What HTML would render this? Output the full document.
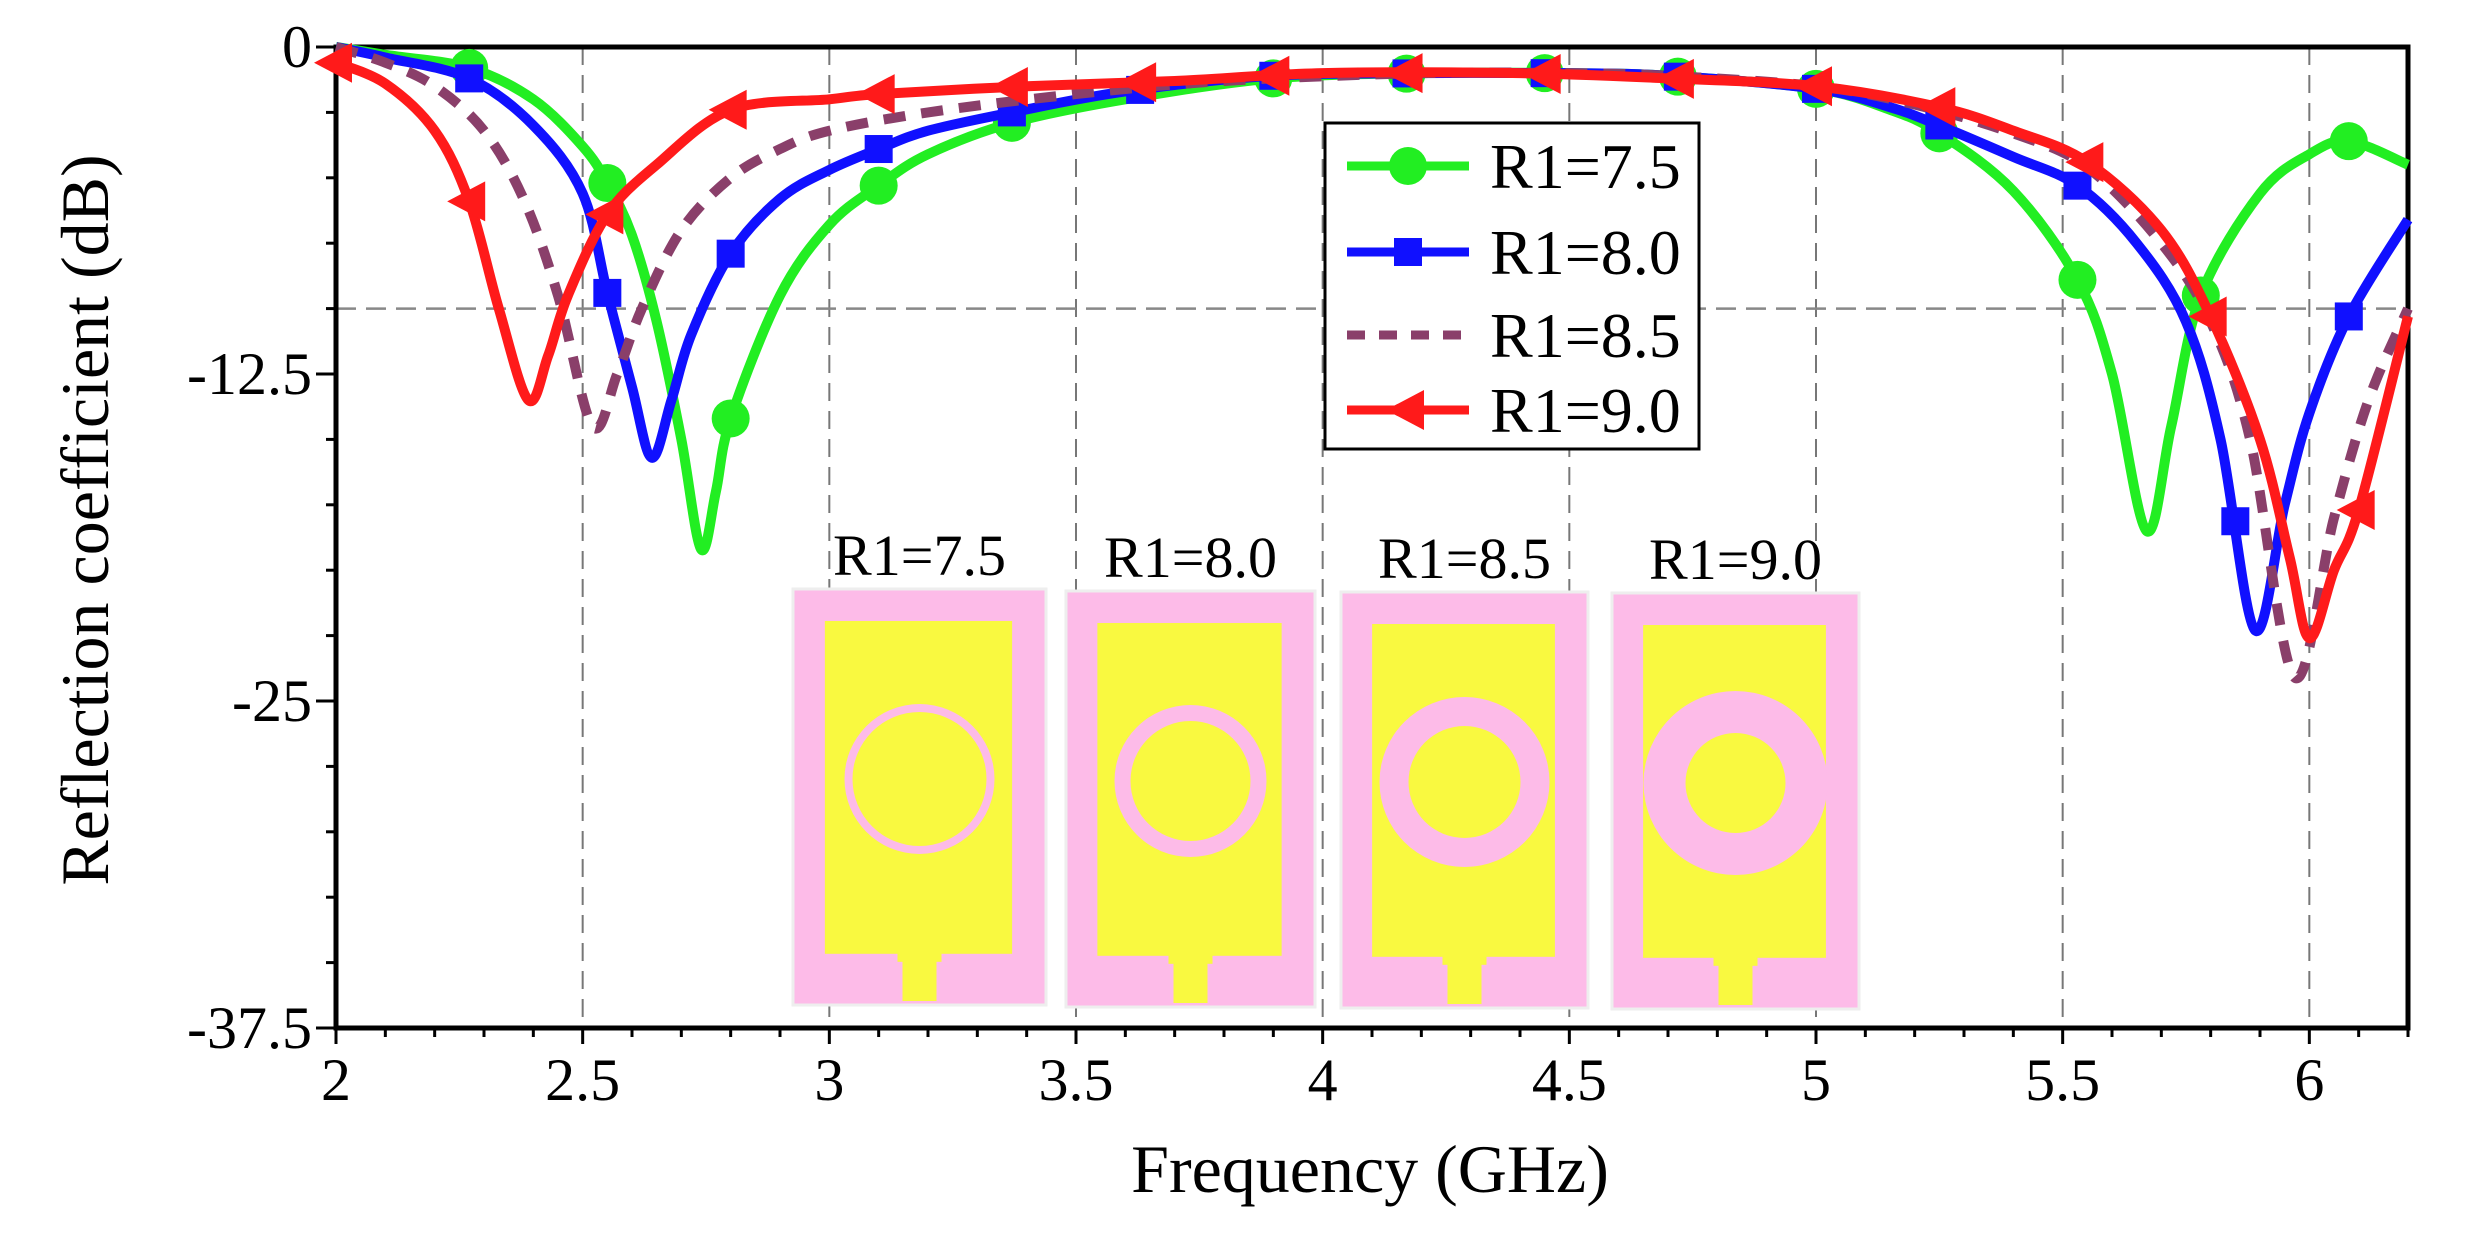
<!DOCTYPE html>
<html><head><meta charset="utf-8"><style>
html,body{margin:0;padding:0;background:#fff;}
svg{display:block;}
svg text{font-family:"Liberation Serif","DejaVu Serif",serif;}
</style></head><body>
<svg id="c" width="2477" height="1244" viewBox="0 0 2477 1244"></svg>
<script>
const xTicks=[2,2.5,3,3.5,4,4.5,5,5.5,6];
const yTicks=[0,-12.5,-25,-37.5];
const yTickLabels=["0","-12.5","-25","-37.5"];
const seriesNames=["R1=7.5","R1=8.0","R1=8.5","R1=9.0"];
const f75=[2,2.1,2.27,2.4,2.5,2.55,2.6,2.65,2.7,2.74,2.77,2.8,2.9,3.0,3.1,3.2,3.37,3.6,3.9,4.2,4.5,4.7,5.0,5.15,5.25,5.4,5.53,5.6,5.67,5.72,5.78,5.9,6.0,6.08,6.2];
const v75=[0,-0.3,-0.8,-2,-3.8,-5.2,-7.2,-10.5,-15,-19.2,-17,-14.2,-9.5,-6.8,-5.3,-4.1,-2.9,-2,-1.2,-1,-1,-1.1,-1.6,-2.4,-3.3,-5.5,-8.9,-12.5,-18.5,-14.5,-9.5,-5.6,-4.1,-3.6,-4.5];
const f80=[2,2.1,2.27,2.4,2.5,2.55,2.6,2.64,2.68,2.72,2.8,2.9,3.0,3.1,3.2,3.37,3.6,3.9,4.2,4.5,4.7,5.0,5.15,5.25,5.4,5.53,5.65,5.75,5.82,5.89,5.95,6.0,6.08,6.2];
const v80=[0,-0.4,-1.2,-3,-5.6,-9.4,-13,-15.7,-13.5,-11,-7.9,-5.8,-4.7,-3.9,-3.2,-2.5,-1.7,-1.1,-1,-1,-1.1,-1.6,-2.3,-3,-4.2,-5.3,-7.5,-10.5,-15,-22.3,-17.5,-14,-10.3,-6.6];
const f85=[2,2.1,2.2,2.3,2.38,2.45,2.52,2.57,2.62,2.7,2.8,2.9,3.0,3.2,3.5,3.8,4.2,4.5,4.7,5.0,5.2,5.4,5.55,5.7,5.8,5.88,5.97,6.05,6.12,6.2];
const v85=[0,-0.6,-1.5,-3.2,-5.8,-9.5,-14.5,-12.5,-10,-7,-5,-3.9,-3.2,-2.5,-1.8,-1.3,-1,-1,-1.1,-1.5,-2.2,-3.3,-4.6,-7.5,-10.5,-15,-24.1,-18,-13.5,-10];
const f90=[2,2.1,2.2,2.27,2.33,2.39,2.43,2.47,2.55,2.65,2.8,3.0,3.1,3.4,3.7,4.0,4.4,4.7,5.0,5.25,5.4,5.55,5.7,5.8,5.9,5.96,6.0,6.05,6.1,6.2];
const v90=[-0.6,-1.4,-3.2,-5.9,-10,-13.5,-11.8,-9.5,-6.4,-4.5,-2.4,-2,-1.8,-1.5,-1.3,-1,-1,-1.2,-1.5,-2.3,-3.2,-4.4,-7,-10.3,-15,-19.5,-22.6,-20,-17.7,-10.3];
const mk75=[2.27,2.55,2.8,3.1,3.37,3.9,4.17,4.45,4.72,5.0,5.25,5.53,5.78,6.08];
const mk80=[2.27,2.55,2.8,3.1,3.37,3.63,3.9,4.17,4.45,4.72,5.0,5.25,5.53,5.85,6.08];
const mk90=[2.0,2.27,2.55,2.8,3.1,3.37,3.63,3.9,4.17,4.45,4.72,5.0,5.25,5.55,5.8,6.1];

const X0=336,X1=2408,Y0=47,Y1=1028;
const xs=v=>X0+(v-2)*(X1-X0)/4.2;
const ys=v=>Y0+(-v)*(Y1-Y0)/37.5;
const NS="http://www.w3.org/2000/svg";
const svg=document.getElementById('c');
const FF="Liberation Serif, DejaVu Serif, serif";
function el(t,a,p){const e=document.createElementNS(NS,t);for(const k in a)e.setAttribute(k,a[k]);if(t==='text')e.style.fontFamily='"Liberation Serif","DejaVu Serif",serif';(p||svg).appendChild(e);return e;}

xTicks.slice(1).forEach(t=>{const g=el('line',{x1:xs(t),x2:xs(t),y1:Y0,y2:Y1,stroke:'#777','stroke-width':2,'stroke-dasharray':'18,10'});

});
const hg=el('line',{x1:X0,x2:X1,y1:ys(-10),y2:ys(-10),stroke:'#888','stroke-width':2.5,'stroke-dasharray':'20,10'});



const insets=[{x:793,y:589,w:253,l:"R1=7.5",ro:75,ri:67},{x:1066,y:591,w:249,l:"R1=8.0",ro:76,ri:60},{x:1341,y:592,w:247,l:"R1=8.5",ro:85,ri:56},{x:1612,y:593,w:247,l:"R1=9.0",ro:92,ri:50}];
insets.forEach((s,i)=>{
 const g=el('g',{});
 
 
 const h=416;
 el('rect',{x:s.x,y:s.y,width:s.w,height:h,fill:'#fdbbe8',stroke:'#eee','stroke-width':3},g);
 const ix=s.x+s.w*0.126, iw=s.w*0.74, iy=s.y+32, ih=h*0.8;
 el('rect',{x:ix,y:iy,width:iw,height:ih,fill:'#f9f940'},g);
 const cx=s.x+s.w/2, cy=s.y+190;
 el('circle',{cx:cx,cy:cy,r:s.ro,fill:'#fdbbe8'},g);
 el('circle',{cx:cx,cy:cy,r:s.ri,fill:'#f9f940'},g);
 el('rect',{x:cx-17,y:iy+ih,width:34,height:h-(iy+ih-s.y)-4,fill:'#f9f940'},g);
 el('rect',{x:cx-22,y:iy+ih-6,width:44,height:14,fill:'#f9f940'},g);
 const t=el('text',{x:cx,y:s.y-14,'font-size':58,'text-anchor':'middle',fill:'#000'},g);t.textContent=s.l;
});

const box=el('rect',{x:X0,y:Y0,width:X1-X0,height:Y1-Y0,fill:'none',stroke:'#000','stroke-width':5});


for(let v=2;v<=6.2001;v+=0.1){const big=Math.abs(v*2-Math.round(v*2))<1e-6;el('line',{x1:xs(v),x2:xs(v),y1:Y1,y2:Y1+(big?16:9),stroke:'#000','stroke-width':3});}
for(let v=0;v>=-37.5001;v-=2.5){const big=Math.abs(v/12.5-Math.round(v/12.5))<1e-6;el('line',{x1:X0,x2:X0-(big?20:10),y1:ys(v),y2:ys(v),stroke:'#000','stroke-width':3});}
xTicks.forEach(t=>{const e=el('text',{x:xs(t),y:1100,'font-size':60,'text-anchor':'middle'});e.textContent=String(t);

});
yTicks.forEach((t,i)=>{const e=el('text',{x:X0-24,y:ys(t)+20,'font-size':60,'text-anchor':'end'});e.textContent=yTickLabels[i];

});
const xt=el('text',{x:1370,y:1192,'font-size':68,'text-anchor':'middle'});xt.textContent='Frequency (GHz)';


const yt=el('text',{x:0,y:0,'font-size':68,'text-anchor':'middle',transform:'translate(108,520) rotate(-90)'});yt.textContent='Reflection coefficient (dB)';



function pathD(fx,vy){const p=fx.map((f,i)=>[xs(f),ys(vy[i])]);let d='M'+p[0][0]+','+p[0][1];
for(let i=0;i<p.length-1;i++){const a=p[Math.max(0,i-1)],b=p[i],c=p[i+1],e=p[Math.min(p.length-1,i+2)];
d+=` C${b[0]+(c[0]-a[0])/6},${b[1]+(c[1]-a[1])/6} ${c[0]-(e[0]-b[0])/6},${c[1]-(e[1]-b[1])/6} ${c[0]},${c[1]}`;}return d;}
function interp(fx,vy,f){for(let i=0;i<fx.length-1;i++){if(f>=fx[i]&&f<=fx[i+1]){const t=(f-fx[i])/(fx[i+1]-fx[i]);return vy[i]+t*(vy[i+1]-vy[i]);}}return vy[vy.length-1];}
function marker(type,x,y,col,g){
 if(type==='circle')el('circle',{cx:x,cy:y,r:19,fill:col},g);
 else if(type==='square')el('rect',{x:x-14,y:y-14,width:28,height:28,fill:col},g);
 else el('polygon',{points:`${x-22},${y} ${x+16},${y-20} ${x+16},${y+20}`,fill:col},g);
}
const defs=[{f:f75,v:v75,c:'#22ee22',m:'circle',mk:mk75,n:'series-r1-7-5'},{f:f80,v:v80,c:'#1010ff',m:'square',mk:mk80,n:'series-r1-8-0'},{f:f85,v:v85,c:'#8a3f6a',m:null,mk:[],n:'series-r1-8-5',dash:'22,16'},{f:f90,v:v90,c:'#ff1a1a',m:'tri',mk:mk90,n:'series-r1-9-0'}];
[0,1,2,3].forEach(i=>{const s=defs[i];const g=el('g',{});


const a={d:pathD(s.f,s.v),fill:'none',stroke:s.c,'stroke-width':10,'stroke-linejoin':'round'};if(s.dash)a['stroke-dasharray']=s.dash;
el('path',a,g);
s.mk.forEach(f=>marker(s.m,xs(f),ys(interp(s.f,s.v,f)),s.c,g));});

const lg=el('g',{});


el('rect',{x:1325,y:123,width:374,height:326,fill:'#fff',stroke:'#000','stroke-width':3},lg);
const ly=[166,252,335,410];
defs.forEach((s,i)=>{const e=el('g',{},lg);


const a={x1:1347,x2:1469,y1:ly[i],y2:ly[i],stroke:s.c,'stroke-width':9};if(s.dash)a['stroke-dasharray']='18,14';
el('line',a,e);if(s.m)marker(s.m,1408,ly[i],s.c,e);
const t=el('text',{x:1490,y:ly[i]+22,'font-size':64},e);t.textContent=seriesNames[i];});
</script>
</body></html>
